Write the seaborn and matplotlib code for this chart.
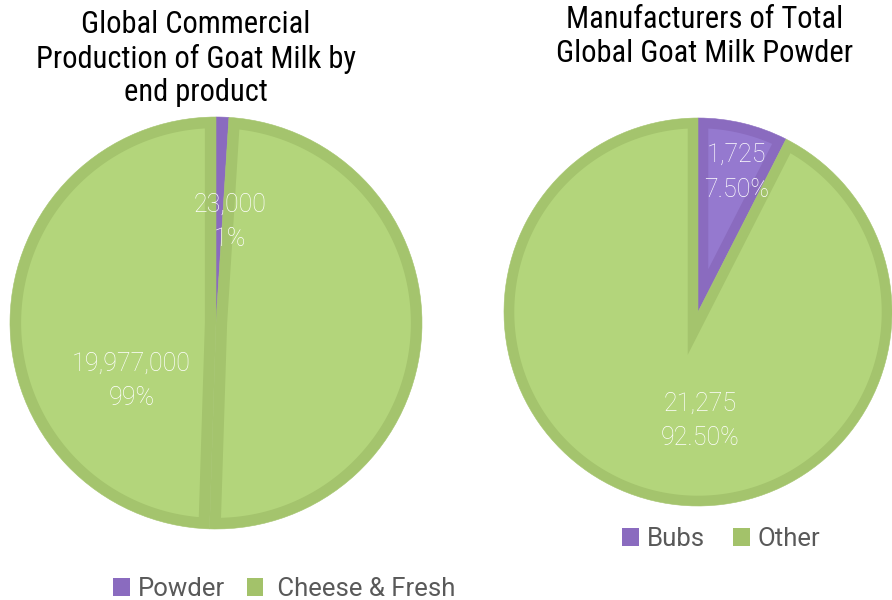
import matplotlib
matplotlib.use("Agg")
import numpy as np
import matplotlib.pyplot as plt
import seaborn as sns
from matplotlib.patches import Patch, Polygon
from matplotlib import font_manager

sns.set_theme(style="white")

# ---- data ----
left_title = "Global Commercial\nProduction of Goat Milk by\nend product"
left_categories = ["Powder", " Cheese & Fresh"]
left_values = [23000, 19977000]
left_pct = [1, 99]            # slice sizes as drawn in the source
left_pct_labels = ["1%", "99%"]

right_title = "Manufacturers of Total\nGlobal Goat Milk Powder"
right_categories = ["Bubs", "Other"]
right_values = [1725, 21275]
right_pct_labels = ["7.50%", "92.50%"]

# ---- styles ----
PURPLE_EDGE = "#8a6bbf"
PURPLE_FACE_L = "#8a6bbf"
PURPLE_FACE_R = "#9579cf"
GREEN_FACE = "#b3d57b"
GREEN_EDGE = "#a4c46d"
LEG_PURPLE = "#8a6bbf"
LEG_GREEN = "#a3c26a"

names = {f.name for f in font_manager.fontManager.ttflist}
title_font = ["Liberation Sans Narrow", "Roboto Condensed", "DejaVu Sans"]
title_font = [f for f in title_font if f in names] or ["DejaVu Sans"]
label_font = ["Roboto", "DejaVu Sans"]

W, H = 892, 600
fig = plt.figure(figsize=(W / 100, H / 100), dpi=100)


def pie_axes(cx, cy, r):
    return fig.add_axes([(cx - r) / W, (H - cy - r) / H, 2 * r / W, 2 * r / H])


def finish(ax):
    ax.set_xlim(-1, 1)
    ax.set_ylim(-1, 1)
    ax.set_aspect("equal")
    ax.axis("off")


def inset_region(theta1, theta2, r, d, n=240):
    """Inner face of a wedge, inset by d from its border (mitred apex)."""
    a1, a2 = np.radians(theta1), np.radians(theta2)
    alpha = a2 - a1
    if r - d <= d:
        return None
    delta = np.arcsin(d / (r - d))
    if alpha <= 2 * delta:
        return None
    ang = np.linspace(a1 + delta, a2 - delta, n)
    pts = list(zip((r - d) * np.cos(ang), (r - d) * np.sin(ang)))
    s = d / np.sin(alpha / 2)
    mid = (a1 + a2) / 2
    pts.append((s * np.cos(mid), s * np.sin(mid)))
    return np.array(pts)


def draw_pie(ax, sizes, edges, faces, d):
    wedges, _ = ax.pie(sizes, colors=edges, startangle=90, counterclock=False,
                       radius=1, wedgeprops=dict(linewidth=0.4))
    finish(ax)
    for w, ec, fc in zip(wedges, edges, faces):
        w.set_edgecolor(ec)
        poly = inset_region(w.theta1, w.theta2, w.r, d)
        if poly is not None:
            ax.add_patch(Polygon(poly, closed=True, facecolor=fc,
                                 edgecolor="none", zorder=w.get_zorder() + 0.1))
    return wedges


# ---- left pie ----
axL = pie_axes(216, 323, 206)
# the cheese & fresh slice is drawn as two equal halves, as in the source
draw_sizes = [left_pct[0], left_pct[1] / 2, left_pct[1] / 2]
draw_pie(axL, draw_sizes, [PURPLE_EDGE, GREEN_EDGE, GREEN_EDGE],
         [PURPLE_FACE_L, GREEN_FACE, GREEN_FACE], 0.054)
lpos = [(0.07, 0.49), (-0.41, -0.28)]
for v, p, (x, y) in zip(left_values, left_pct_labels, lpos):
    axL.text(x, y, f"{v:,}\n{p}", ha="center", va="center", color="white",
             fontsize=18, fontweight="light", family=label_font, linespacing=1.55,
             zorder=5)

# ---- right pie ----
axR = pie_axes(698, 312, 194)
draw_pie(axR, right_values, [PURPLE_EDGE, GREEN_EDGE],
         [PURPLE_FACE_R, GREEN_FACE], 0.053)
rpos = [(0.20, 0.72), (0.01, -0.56)]
for v, p, (x, y) in zip(right_values, right_pct_labels, rpos):
    axR.text(x, y, f"{v:,}\n{p}", ha="center", va="center", color="white",
             fontsize=18, fontweight="light", family=label_font, linespacing=1.55,
             zorder=5)

# ---- titles ----
fig.text(196 / W, 1 - 10 / H, left_title, ha="center", va="top", fontsize=22,
         family=title_font, color="black", linespacing=1.2)
fig.text(705 / W, 1 - 5 / H, right_title, ha="center", va="top", fontsize=22,
         family=title_font, color="black", linespacing=1.2)

# ---- legends ----
def legend(cats, cols, x, y, colsp):
    handles = [Patch(facecolor=c, edgecolor="none") for c in cols]
    fig.legend(handles, cats, loc="center left", bbox_to_anchor=(x / W, 1 - y / H),
               ncol=len(cats), frameon=False, prop={"family": label_font, "size": 18.5},
               labelcolor="#595959", handlelength=0.65, handleheight=0.65,
               handletextpad=0.3, columnspacing=colsp, borderaxespad=0, borderpad=0)

legend(left_categories, [LEG_PURPLE, LEG_GREEN], 113, 589, 0.85)
legend(right_categories, [LEG_PURPLE, LEG_GREEN], 622, 539, 1.1)

fig.savefig("out.png", dpi=100)
